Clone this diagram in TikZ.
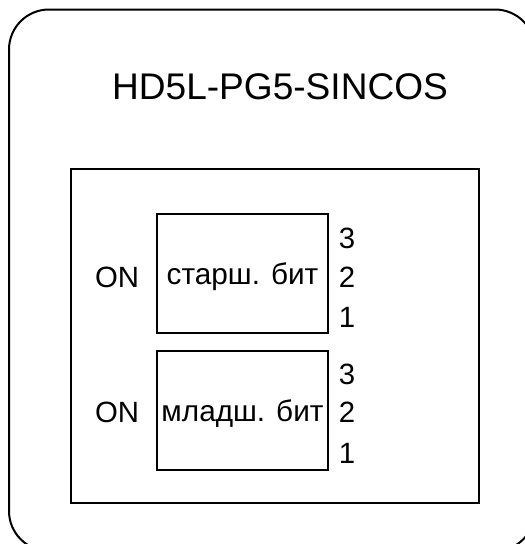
\documentclass[tikz,border=0pt]{standalone}
\usepackage{fontspec}
\setmainfont{Liberation Sans}
\usetikzlibrary{positioning}
\tikzset{
  frame/.style={line width=1.5pt,rounded corners=30pt},
  panel/.style={line width=1.3pt},
  switchbox/.style={draw,line width=1.3pt,minimum width=128.25pt,minimum height=89.25pt,inner sep=0pt,text depth=0pt,font=\fontsize{22.3}{26}\selectfont},
  label/.style={inner sep=0pt,font=\fontsize{22}{26}\selectfont},
}
\begin{document}
\begin{tikzpicture}[x=0.75pt,y=-0.75pt]
\useasboundingbox (0,0) rectangle (525,544);
\clip (0,0) rectangle (525,544);
\draw[frame] (9,9.5) rectangle (535,551);
\node[inner sep=0pt,font=\fontsize{27.8}{32}\selectfont] (title) at (280,87) {HD5L-PG5-SINCOS};
\draw[panel] (71,169) rectangle (479,503);
% upper switch
\node[switchbox] (hi) at (242.5,273.5) {старш. бит\hspace{6pt}};
\node[label] (hion) at (117,277) {ON};
\node[label] (hi3) at (347,238) {3};
\node[label] (hi2) at (347,277) {2};
\node[label] (hi1) at (347,317) {1};
% lower switch
\node[switchbox] (lo) at (242.5,410.5) {младш. бит};
\node[label] (loon) at (117,412) {ON};
\node[label] (lo3) at (347,374) {3};
\node[label] (lo2) at (347,412) {2};
\node[label] (lo1) at (347,453) {1};
\end{tikzpicture}
\end{document}
